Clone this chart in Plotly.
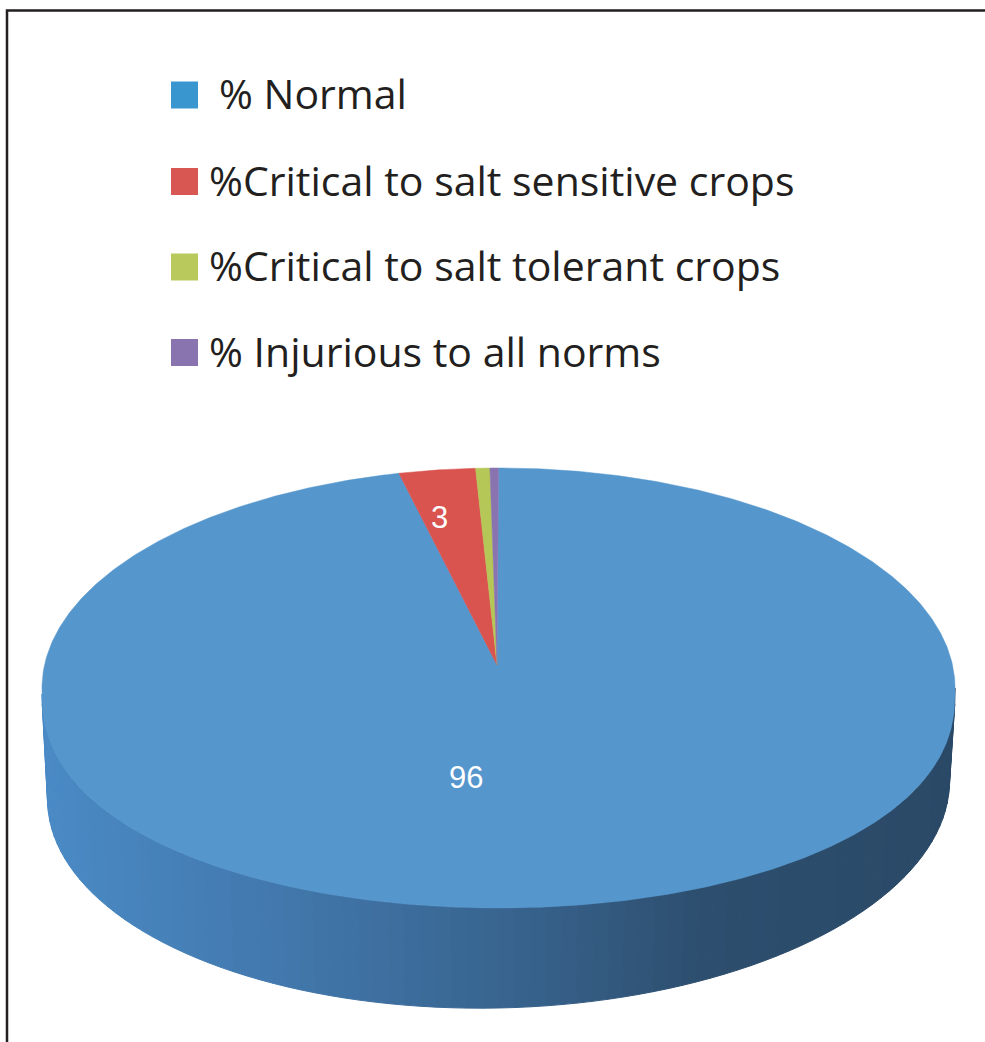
import math
import plotly.graph_objects as go

# --- data ---
categories = [" % Normal", "%Critical to salt sensitive crops", "%Critical to salt tolerant crops", "% Injurious to all norms"]
values = [96.5, 2.7, 0.5, 0.3]
value_labels = ["96", "3", "", ""]
slice_colors = ["#5596cc", "#d9534f", "#b5c756", "#8a74b0"]
legend_colors = ["#3a96cf", "#d85752", "#b9c95b", "#8a74b0"]
legend_text_x = [217, 207, 207, 207]
legend_y = [93, 179.5, 265, 350.5]
wall_stops = [(0.0, (74, 138, 197)), (0.25, (66, 120, 173)), (0.5, (56, 100, 143)),
              (0.72, (45, 78, 110)), (1.0, (42, 73, 103))]

# --- geometry (canvas units) ---
W, H = 985, 1042
CX, CY, RX, RY = 498.5, 688, 456.5, 220
LOW_CY, LOW_RY, LOW_P = 694, 214, 0.9
APEX = (497, 665)
BCX, BCY, BRX, BRY, TILT = 498.5, 790, 451, 218, -0.02
FONT = "Open Sans"


def rim(t):
    a = math.radians(t)
    c = math.cos(a)
    x = CX + RX * math.sin(a)
    y = CY - RY * c if c >= 0 else LOW_CY + LOW_RY * abs(c) ** LOW_P
    return x, y


def base(t):
    a = math.radians(t)
    dx = BRX * math.sin(a)
    return BCX + dx, BCY - BRY * math.cos(a) + TILT * dx


def wall_color(f):
    for (f0, c0), (f1, c1) in zip(wall_stops, wall_stops[1:]):
        if f <= f1:
            k = (f - f0) / (f1 - f0)
            return "rgb(%d,%d,%d)" % tuple(round(a + (b - a) * k) for a, b in zip(c0, c1))
    return "rgb(%d,%d,%d)" % wall_stops[-1][1]


fig = go.Figure()

# side wall: lower half of the rim, from the left extreme to the right extreme
N = 90
for i in range(N):
    t0 = 270 - 180 * i / N
    t1 = 270 - 180 * (i + 1) / N
    p = [rim(t0), rim(t1), base(t1), base(t0)]
    col = wall_color((p[0][0] - CX + RX) / (2 * RX))
    fig.add_trace(go.Scatter(x=[q[0] for q in p] + [p[0][0]], y=[q[1] for q in p] + [p[0][1]],
                             mode="lines", fill="toself", fillcolor=col,
                             line=dict(color=col, width=1), hoverinfo="skip", showlegend=False))

# top slices, clockwise from twelve o'clock
total = sum(values)
cum = 0.0
for name, v, col in zip(categories, values, slice_colors):
    t0 = 360 * cum / total
    cum += v
    t1 = 360 * cum / total
    n = max(2, int((t1 - t0) * 2))
    pts = [rim(t0 + (t1 - t0) * j / n) for j in range(n + 1)]
    xs = [APEX[0]] + [q[0] for q in pts] + [APEX[0]]
    ys = [APEX[1]] + [q[1] for q in pts] + [APEX[1]]
    fig.add_trace(go.Scatter(x=xs, y=ys, mode="lines", fill="toself", fillcolor=col,
                             line=dict(color=col, width=0.5), name=name, hoverinfo="name",
                             showlegend=False))

# legend swatches
fig.add_trace(go.Scatter(x=[184.5] * 4, y=[95, 181.5, 267, 352.5], mode="markers",
                         marker=dict(symbol="square", size=27, color=legend_colors, line=dict(width=0)),
                         hoverinfo="skip", showlegend=False))

anns = []
for name, x, y in zip(categories, legend_text_x, legend_y):
    anns.append(dict(x=x, y=y, xref="x", yref="y", text=name.strip(), showarrow=False, xanchor="left",
                     yanchor="middle", font=dict(family=FONT, size=41, color="#231f20")))
for txt, pos in zip(value_labels, [(466, 777), (439, 517), None, None]):
    if txt:
        anns.append(dict(x=pos[0], y=pos[1], xref="x", yref="y", text=txt, showarrow=False,
                         font=dict(family="Liberation Sans", size=31, color="#ffffff")))

fig.update_layout(
    width=W, height=H, margin=dict(l=0, r=0, t=0, b=0),
    paper_bgcolor="#ffffff", plot_bgcolor="#ffffff", showlegend=False,
    xaxis=dict(range=[0, W], visible=False, fixedrange=True),
    yaxis=dict(range=[H, 0], visible=False, fixedrange=True),
    annotations=anns,
    shapes=[dict(type="path", xref="x", yref="y", path=f"M 7 {H} L 7 10.5 L {W} 10.5",
                 line=dict(color="#231f20", width=2.5))],
)
fig.write_html("out.html", config=dict(displayModeBar=False),
               post_script="document.body.style.margin='0';document.body.style.overflow='hidden';")
